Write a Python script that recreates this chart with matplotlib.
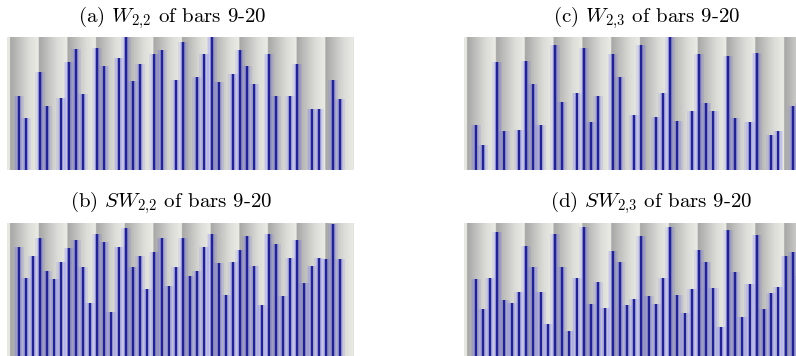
# -*- coding: utf-8 -*-

import matplotlib as mpl
mpl.use('Agg')
import matplotlib.pyplot as p
import numpy as n
from matplotlib.colors import LinearSegmentedColormap

mpl.rcParams['mathtext.fontset'] = 'cm'

bars = list(range(9, 21))
beats_per_bar = 4

# beat index (from the start of bar 9) of every weight that is drawn
onsets_w = [1, 2, 4, 5, 7, 8, 9, 10, 12, 13, 15, 16, 17, 18, 20, 21, 23, 24,
            26, 27, 28, 29, 31, 32, 33, 34, 36, 37, 39, 40, 42, 43, 45, 46]
onsets_sw = list(range(1, 47))

w22 = [0.56, 0.39, 0.74, 0.48, 0.54, 0.81, 0.91, 0.57, 0.92, 0.78, 0.84, 1.00,
       0.67, 0.80, 0.87, 0.90, 0.68, 0.96, 0.70, 0.87, 1.00, 0.66, 0.72, 0.90,
       0.78, 0.65, 0.87, 0.56, 0.56, 0.80, 0.46, 0.46, 0.68, 0.53]
w23 = [0.34, 0.19, 0.81, 0.29, 0.30, 0.82, 0.65, 0.34, 0.94, 0.51, 0.58, 0.92,
       0.36, 0.56, 0.87, 0.70, 0.41, 0.94, 0.40, 0.58, 1.00, 0.37, 0.44, 0.87,
       0.50, 0.44, 0.86, 0.39, 0.36, 0.88, 0.26, 0.29, 0.48, 0.50]
sw22 = [0.82, 0.59, 0.75, 0.89, 0.64, 0.58, 0.71, 0.81, 0.87, 0.67, 0.40, 0.92,
        0.86, 0.33, 0.82, 0.96, 0.67, 0.75, 0.50, 0.78, 0.89, 0.53, 0.67, 0.89,
        0.60, 0.64, 0.82, 0.92, 0.70, 0.46, 0.71, 0.80, 0.90, 0.68, 0.38, 0.92,
        0.84, 0.45, 0.74, 0.87, 0.55, 0.68, 0.74, 0.73, 0.99, 0.73]
sw23 = [0.58, 0.35, 0.59, 0.93, 0.42, 0.40, 0.48, 0.83, 0.67, 0.48, 0.24, 0.92,
        0.67, 0.19, 0.59, 0.97, 0.39, 0.56, 0.36, 0.79, 0.71, 0.38, 0.43, 0.90,
        0.45, 0.39, 0.59, 0.97, 0.46, 0.32, 0.50, 0.80, 0.71, 0.51, 0.22, 0.95,
        0.63, 0.29, 0.54, 0.91, 0.35, 0.47, 0.52, 0.75, 0.78, 0.60]

titles = [r'(a) $W_{2{,}2}$ of bars 9-20', r'(b) $SW_{2{,}2}$ of bars 9-20',
          r'(c) $W_{2{,}3}$ of bars 9-20', r'(d) $SW_{2{,}3}$ of bars 9-20']

fig = p.figure(figsize=(7.96, 3.56), dpi=100)

# axes rects and title centres in figure fraction
rects = [[0.0088, 0.5225, 0.4347, 0.3736], [0.0088, 0.0, 0.4347, 0.3736],
         [0.5829, 0.5225, 0.4384, 0.3736], [0.5829, 0.0, 0.4384, 0.3736]]
title_xy = [(0.216, 0.950), (0.215, 0.430), (0.813, 0.950), (0.818, 0.430)]
data = [(onsets_w, w22), (onsets_sw, sw22), (onsets_w, w23), (onsets_sw, sw23)]

bandmap = LinearSegmentedColormap.from_list(
    'band', ['#a6a6a6', '#c2c2c0', '#dcdcd8', '#ececE6'])

nbeats = len(bars) * beats_per_bar
gx = n.linspace(-beats_per_bar, nbeats, 3000)
grad = (gx % beats_per_bar) / beats_per_bar

for rect, title, txy, (ons, vals) in zip(rects, titles, title_xy, data):
    ax = fig.add_axes(rect)
    ax.imshow(grad[None, :], extent=(-beats_per_bar, nbeats, 0, 1),
              aspect='auto', cmap=bandmap, vmin=0, vmax=1,
              interpolation='bilinear', zorder=0)
    x = n.array(ons) + 0.2
    v = n.array(vals)
    # soft blue glow round every line
    for w, a in [(1.4, 0.10), (0.9, 0.13), (0.5, 0.17)]:
        ax.bar(x, v, width=w, color='#4848ff', alpha=a, linewidth=0, zorder=1)
    ax.vlines(x, 0, v, color='#23238f', linewidth=1.7, zorder=2)
    ax.set_xlim(-0.42, nbeats)
    ax.set_ylim(0, 1.0)
    ax.set_axis_off()
    fig.text(txy[0], txy[1], title, ha='center', va='center',
             family='cmr10', fontsize=15)

p.savefig('out.png', dpi=100)
